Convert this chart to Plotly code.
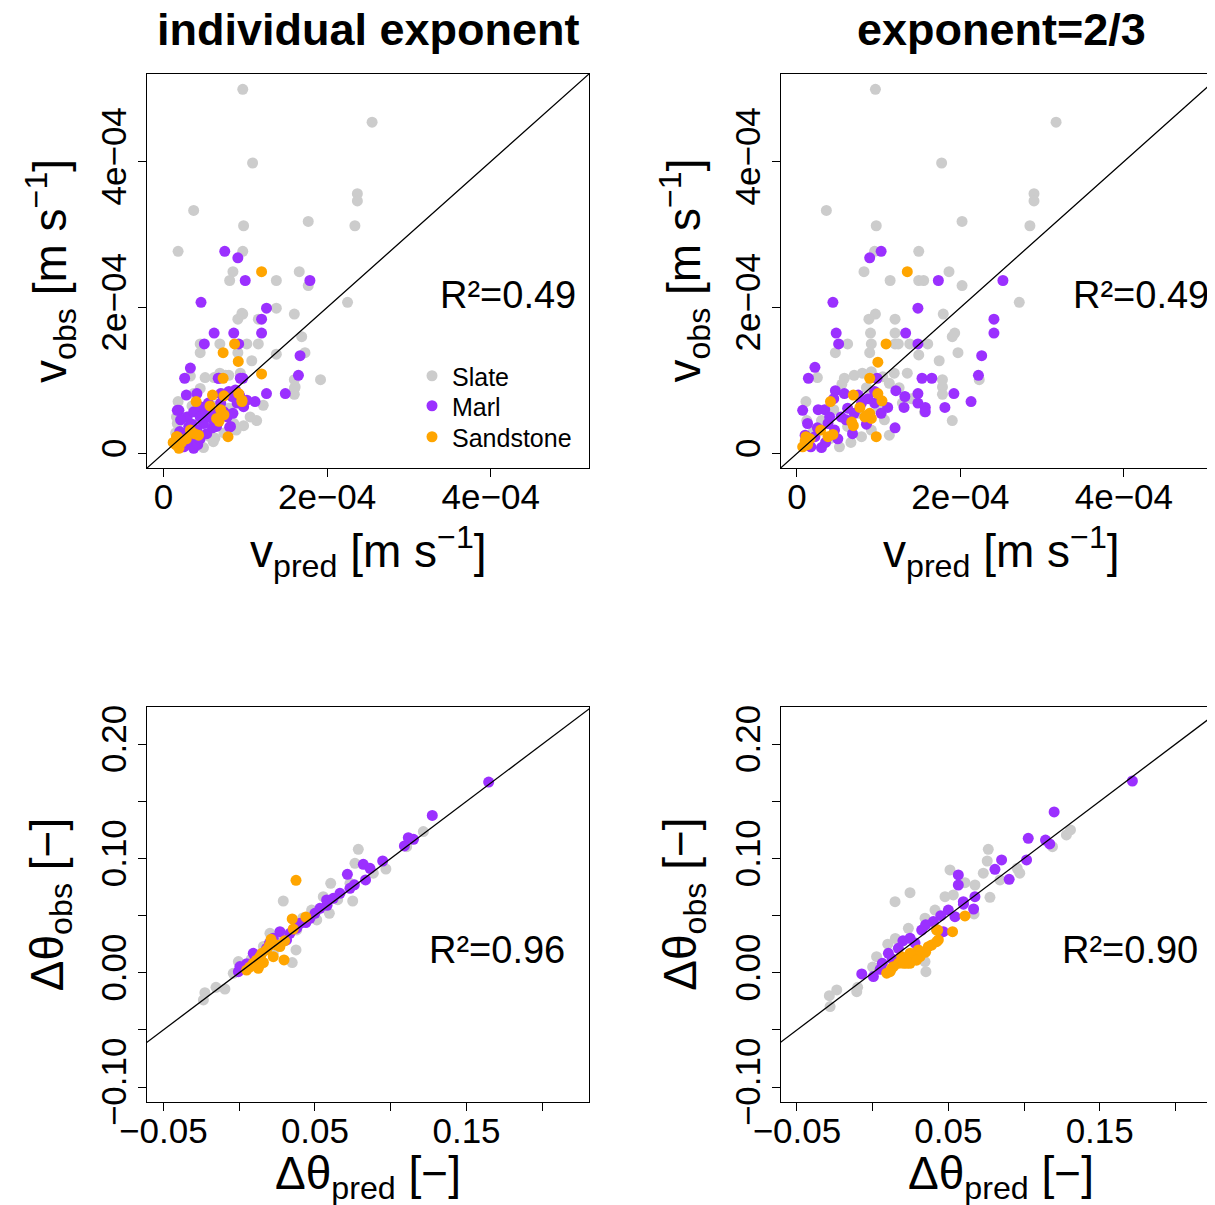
import plotly.graph_objects as go

# ---------------- data ----------------
# top panels: velocities in units of 1e-4 m/s
tl_slate_x = [0.97,2.55,1.09,2.37,2.37,0.37,0.98,1.77,2.34,0.18,0.97,0.85,0.81,1.38,1.66,1.77,2.25,1.38,1.60,0.97,0.91,1.16,1.69,0.45,0.69,1.02,1.16,0.45,0.91,1.38,1.73,1.08,0.33,0.51,0.62,0.69,0.76,0.94,1.92,1.60,1.60,1.60,1.22,1.14,0.98,0.18,0.16,0.49,0.63,0.89,0.43,1.06,0.61,0.17,0.15,0.19,0.45,0.80,0.29,0.53,0.25,0.57,0.74,0.86,0.72,0.37,0.55,0.65,0.40,0.30,0.22,0.96,1.61,0.80,0.35]
tl_slate_y = [4.99,4.54,3.98,3.56,3.46,3.33,3.12,3.18,3.12,2.77,2.77,2.49,2.37,2.37,2.49,2.30,2.07,1.99,1.91,1.91,1.84,1.84,1.60,1.50,1.50,1.50,1.50,1.38,1.38,1.36,1.38,1.27,1.06,1.04,1.04,1.10,1.07,1.10,1.01,1.01,0.89,0.81,0.66,0.45,0.38,0.71,0.50,0.08,0.21,0.32,0.41,0.50,0.16,0.41,0.28,0.55,0.89,1.07,0.50,0.46,0.21,0.23,0.28,0.41,0.82,0.82,0.60,0.65,0.30,0.12,0.18,1.92,0.91,0.62,0.65]
tl_marl_x = [0.75,0.91,1.00,1.79,0.46,1.26,1.20,0.62,0.86,1.20,0.50,0.92,1.67,0.33,0.26,0.68,0.94,0.97,1.65,1.26,1.49,1.12,0.28,0.41,0.19,0.81,0.37,0.67,0.17,0.70,0.80,0.88,0.84,0.29,0.37,0.45,0.55,0.61,0.49,0.41,0.33,0.25,0.37,0.53,0.65,0.78,0.82,0.70,0.57,0.45,0.21,0.31,0.74,0.90,1.02,0.98,0.28,0.45,0.60,0.42,0.20,0.52,0.62,0.35,0.27,0.85,0.93]
tl_marl_y = [2.77,2.68,2.37,2.37,2.07,1.99,1.84,1.65,1.65,1.65,1.50,1.50,1.34,1.17,1.03,1.03,1.03,1.03,1.07,0.82,0.82,0.71,0.80,0.82,0.59,0.36,0.08,1.03,0.59,0.82,0.85,0.87,0.78,0.50,0.57,0.64,0.69,0.55,0.41,0.32,0.21,0.09,0.07,0.27,0.37,0.50,0.37,0.69,0.50,0.50,0.46,0.37,0.57,0.69,0.73,0.64,0.15,0.20,0.35,0.12,0.30,0.58,0.44,0.40,0.27,0.55,0.80]
tl_sand_x = [1.20,0.87,0.73,0.915,1.20,0.73,0.60,0.92,0.40,0.96,0.79,0.16,0.74,0.96,0.57,0.74,0.68,0.38,0.33,0.43,0.17,0.15,0.19,0.22,0.70,0.65,0.28,0.12]
tl_sand_y = [2.49,1.50,1.38,1.26,1.09,1.03,0.80,0.82,0.71,0.71,0.23,0.23,0.79,0.73,0.65,0.53,0.44,0.27,0.32,0.25,0.23,0.12,0.07,0.15,0.60,0.48,0.20,0.15]

tr_slate_x = [0.96,3.17,1.77,2.90,2.90,0.36,0.97,2.02,2.85,0.95,1.49,0.82,1.86,1.14,1.49,1.55,2.02,2.72,0.96,0.88,1.20,1.79,0.90,1.20,1.93,1.90,0.62,0.91,1.20,1.24,1.38,1.60,0.47,0.89,1.49,1.97,1.74,0.25,0.58,0.70,0.91,1.19,1.35,1.13,1.78,1.78,1.78,2.23,1.90,1.13,0.11,0.52,0.79,1.07,1.29,1.56,0.62,0.91,0.30,0.45,0.75,1.00,0.20,0.40,0.85,0.55,1.25,1.40,0.12,0.66,1.05,0.80]
tr_slate_y = [4.99,4.54,3.98,3.56,3.46,3.33,3.12,3.18,3.12,2.77,2.77,2.49,2.49,2.37,2.37,2.37,2.30,2.07,1.91,1.84,1.84,1.91,1.65,1.65,1.65,1.60,1.50,1.50,1.50,1.50,1.50,1.50,1.38,1.38,1.35,1.38,1.27,1.04,1.03,1.07,1.12,1.10,1.10,0.96,1.01,0.91,0.81,1.01,0.45,0.25,0.71,0.09,0.23,0.46,0.69,0.57,0.37,0.32,0.45,0.60,0.55,0.62,0.30,0.20,0.90,0.95,0.90,0.75,0.45,0.15,1.05,1.10]
tr_marl_x = [1.03,0.89,1.73,2.52,0.44,1.48,2.41,2.41,0.48,1.33,0.51,1.48,2.26,0.22,0.14,2.22,1.53,1.65,0.98,1.21,1.32,1.48,1.92,2.13,1.48,1.57,1.57,1.81,1.31,1.11,1.20,0.47,0.58,0.07,0.26,0.68,0.30,0.22,0.38,0.54,0.79,0.87,0.95,1.03,0.70,0.13,0.17,0.46,0.60,0.34,0.45,0.62,0.25,0.50,0.85,0.10,0.35,0.75,0.95,0.40]
tr_marl_y = [2.77,2.68,2.37,2.37,2.07,1.99,1.84,1.65,1.65,1.65,1.50,1.50,1.34,1.18,1.03,1.07,1.03,1.03,1.03,0.86,0.78,0.82,0.82,0.71,0.69,0.63,0.57,0.63,0.63,0.63,0.35,0.86,0.82,0.59,0.60,0.27,0.08,0.23,0.41,0.50,0.69,0.75,0.69,0.55,0.55,0.41,0.09,0.32,0.46,0.60,0.75,0.62,0.35,0.20,0.40,0.25,0.15,0.80,0.85,0.50]
tr_sand_x = [1.35,1.09,0.99,0.89,0.69,0.99,1.04,0.41,0.77,0.83,0.89,0.91,0.67,0.97,0.29,0.38,0.44,0.11,0.13,0.07,0.85,0.10,0.16,0.69]
tr_sand_y = [2.49,1.50,1.25,1.03,0.80,0.82,0.72,0.71,0.63,0.50,0.55,0.48,0.43,0.23,0.32,0.23,0.26,0.23,0.12,0.09,0.52,0.17,0.20,0.38]

# bottom panels: water content change [-]
bl_slate_x = [0.0786,0.0764,0.0968,0.1215,0.1105,0.0604,0.0731,0.0749,0.0595,0.0291,0.0478,0.0375,0.0350,0.0203,-0.0005,-0.0226,-0.0236,-0.0153,-0.0094,0.0380,0.0512,0.0137,0.0225,-0.0039,0.0049,0.0885,0.0555,0.0650,0.0420,0.0160,0.0280,0.0080]
bl_slate_y = [0.1080,0.0958,0.0908,0.1235,0.1103,0.0783,0.0783,0.0628,0.0520,0.0628,0.0549,0.0200,0.0089,0.0345,0.0098,-0.0174,-0.0238,-0.0127,-0.0142,0.0375,0.0462,0.0068,0.0170,-0.0005,0.0039,0.0871,0.0666,0.0640,0.0480,0.0230,0.0300,0.0120]
bl_marl_x = [0.1646,0.1274,0.1116,0.1150,0.1090,0.0947,0.0819,0.0863,0.0714,0.0834,0.0731,0.0665,0.0577,0.0533,0.0467,0.0401,0.0335,0.0269,0.0225,0.0181,0.0093,-0.0005,0.0005,0.0137,0.0313,0.0621,0.0760,0.0500,0.0440,0.0200,0.0100,0.0050,0.0380,0.0580]
bl_marl_y = [0.1669,0.1377,0.1182,0.1168,0.1110,0.0978,0.0949,0.0914,0.0861,0.0812,0.0739,0.0695,0.0637,0.0564,0.0477,0.0433,0.0345,0.0360,0.0302,0.0214,0.0170,0.0010,0.0054,0.0141,0.0287,0.0651,0.0770,0.0520,0.0440,0.0260,0.0100,0.0080,0.0390,0.0590]
bl_sand_x = [0.0375,0.0350,0.0440,0.0357,0.0296,0.0210,0.0247,0.0181,0.0137,0.0115,0.0126,0.0049,0.0093,0.0269,0.0225,0.0160,0.0070,0.0200,0.0300,0.0150]
bl_sand_y = [0.0809,0.0471,0.0488,0.0383,0.0112,0.0293,0.0243,0.0200,0.0141,0.0110,0.0039,0.0024,0.0083,0.0229,0.0141,0.0090,0.0050,0.0240,0.0280,0.0170]

br_slate_x = [0.0764,0.0757,0.0731,0.0511,0.0610,0.0676,0.0533,0.0775,0.0955,0.0972,0.0841,0.1188,0.1280,0.1307,0.0247,0.0148,0.0412,0.0346,0.0236,0.0352,0.0346,0.0026,-0.0105,-0.0099,-0.0237,-0.0286,-0.0281,0.0670,0.0478,0.0150,0.0100,0.0300,0.0000,0.0200,0.0420]
br_slate_y = [0.1080,0.0978,0.0871,0.0900,0.0788,0.0768,0.0681,0.0660,0.0914,0.0871,0.0812,0.1103,0.1206,0.1250,0.0701,0.0622,0.0549,0.0477,0.0389,0.0010,0.0098,0.0141,-0.0165,-0.0127,-0.0150,-0.0200,-0.0296,0.0515,0.0666,0.0300,0.0250,0.0200,0.0050,0.0130,0.0380]
br_marl_x = [0.1716,0.1199,0.1028,0.1142,0.1170,0.1017,0.0852,0.0808,0.0902,0.0566,0.0566,0.0676,0.0599,0.0667,0.0500,0.0544,0.0401,0.0324,0.0247,0.0170,0.0104,0.0064,0.0005,-0.0072,0.0467,0.0450,0.0350,0.0200,0.0130,0.0600,0.0280,0.0050]
br_marl_y = [0.1678,0.1407,0.1176,0.1161,0.1127,0.0987,0.0987,0.0905,0.0818,0.0856,0.0768,0.0666,0.0622,0.0558,0.0549,0.0491,0.0448,0.0374,0.0302,0.0214,0.0170,0.0083,-0.0033,-0.0010,0.0360,0.0500,0.0420,0.0280,0.0120,0.0600,0.0260,0.0030]
br_sand_x = [0.0610,0.0528,0.0430,0.0434,0.0390,0.0302,0.0258,0.0225,0.0170,0.0126,0.0093,0.0192,0.0280,0.0423,0.0423,0.0368,0.0313,0.0247,0.0203,0.0137,0.0115,0.0247,0.0350,0.0290]
br_sand_y = [0.0497,0.0360,0.0374,0.0287,0.0243,0.0200,0.0141,0.0083,0.0083,0.0039,-0.0004,0.0141,0.0170,0.0374,0.0272,0.0228,0.0141,0.0171,0.0083,0.0053,0.0010,0.0083,0.0180,0.0110]

groups = ["Slate", "Marl", "Sandstone"]
colors = {"Slate": "#CCCCCC", "Marl": "#9B30FF", "Sandstone": "#FFA500"}
titles = ["individual exponent", "exponent=2/3"]
r2_labels = ["R²=0.49", "R²=0.49", "R²=0.96", "R²=0.90"]

v_ticks = [0, 2e-4, 4e-4]
v_ticktext = ["0", "2e\u221204", "4e\u221204"]
th_xticks = [-0.05, 0, 0.05, 0.10, 0.15, 0.20]
th_xtext = ["\u22120.05", "", "0.05", "", "0.15", ""]
th_yticks = [-0.10, -0.05, 0, 0.05, 0.10, 0.15, 0.20]
th_ytext = ["\u22120.10", "", "0.00", "", "0.10", "", "0.20"]

v_lim = (0, 5e-4)
th_xlim = (-0.05, 0.22)
th_ylim = (-0.10, 0.22)

# ---------------- layout geometry ----------------
W, H = 1215, 1205
OFF = 8  # page body margin: figure drawn 8 px right/down of the window corner
FONT = "Liberation Sans, Arial, Helvetica, sans-serif"
# plot boxes in window pixels
COL_X = [(147, 589), (780.6, 1222)]
ROW_Y = [(74, 468), (706.7, 1101.7)]


def fx(p):
    return (p - OFF) / W


def fy(p):
    return 1 - (p - OFF) / H


def ext(lim):
    d = lim[1] - lim[0]
    return [lim[0] - 0.04 * d, lim[1] + 0.04 * d]


def xdomain_range(col, lim):
    x0, x1 = COL_X[col]
    lo, hi = ext(lim)
    x1c = min(x1, W - 1 + OFF)
    hi_c = lo + (x1c - x0) / (x1 - x0) * (hi - lo)
    return [fx(x0), fx(x1c)], [lo, hi_c]


def ydomain(row):
    y0, y1 = ROW_Y[row]
    return [fy(y1), fy(y0)]


fig = go.Figure()

panels = [
    (0, 0, tl_slate_x, tl_slate_y, tl_marl_x, tl_marl_y, tl_sand_x, tl_sand_y, 1e-4),
    (0, 1, tr_slate_x, tr_slate_y, tr_marl_x, tr_marl_y, tr_sand_x, tr_sand_y, 1e-4),
    (1, 0, bl_slate_x, bl_slate_y, bl_marl_x, bl_marl_y, bl_sand_x, bl_sand_y, 1.0),
    (1, 1, br_slate_x, br_slate_y, br_marl_x, br_marl_y, br_sand_x, br_sand_y, 1.0),
]

axis_common = dict(showgrid=False, zeroline=False, showline=True, linecolor="black",
                   linewidth=1, ticks="outside", ticklen=8, tickcolor="black", tickwidth=1,
                   automargin=False,
                   tickfont=dict(family=FONT, size=35, color="black"))

legend_keys = {"Slate": "legend", "Marl": "legend2", "Sandstone": "legend3"}

for i, (row, col, sx, sy, mx, my, ax_, ay_, scale) in enumerate(panels):
    n = i + 1
    xa = "x" if n == 1 else f"x{n}"
    ya = "y" if n == 1 else f"y{n}"
    data = [("Slate", sx, sy), ("Marl", mx, my), ("Sandstone", ax_, ay_)]
    for name, xs, ys in data:
        fig.add_trace(go.Scatter(
            x=[v * scale for v in xs], y=[v * scale for v in ys], mode="markers",
            marker=dict(color=colors[name], size=11, line=dict(width=0)),
            name=name, showlegend=(n == 1), legend=legend_keys[name],
            xaxis=xa, yaxis=ya, hoverinfo="skip"))
    fig.add_trace(go.Scatter(x=[-1, 1], y=[-1, 1], mode="lines",
                             line=dict(color="black", width=1.3), showlegend=False,
                             xaxis=xa, yaxis=ya, hoverinfo="skip"))

    if row == 0:
        xlim, ylim = v_lim, v_lim
        xt, xtt, yt, ytt = v_ticks, v_ticktext, v_ticks, v_ticktext
    else:
        xlim, ylim = th_xlim, th_ylim
        xt, xtt, yt, ytt = th_xticks, th_xtext, th_yticks, th_ytext
    xdom, xrng = xdomain_range(col, xlim)
    key_x = "xaxis" if n == 1 else f"xaxis{n}"
    key_y = "yaxis" if n == 1 else f"yaxis{n}"
    fig.layout[key_x] = dict(domain=xdom, range=xrng, anchor=ya, tickvals=xt, ticktext=xtt,
                             mirror=True, ticklabelstandoff=-10, **axis_common)
    fig.layout[key_y] = dict(domain=ydomain(row), range=ext(ylim), anchor=xa, tickvals=yt,
                             ticktext=ytt, mirror=(col == 0), tickangle=-90,
                             ticklabelstandoff=-2, **axis_common)

annotations = []
# titles
for col, t in enumerate(titles):
    cx = (COL_X[col][0] + COL_X[col][1]) / 2
    annotations.append(dict(text=f"<b>{t}</b>", x=fx(cx), y=fy(29), xref="paper", yref="paper",
                            xanchor="center", yanchor="middle", showarrow=False,
                            font=dict(family=FONT, size=45, color="black")))
# axis labels
xlabels = ["v<sub>pred</sub> [m s<sup>\u22121</sup>]", "\u0394\u03b8<sub>pred</sub> [\u2212]"]
ylabels = ["v<sub>obs</sub> [m s<sup>\u22121</sup>]", "\u0394\u03b8<sub>obs</sub> [\u2212]"]
xlab_y = [552, 1176]
for row in range(2):
    for col in range(2):
        cx = (COL_X[col][0] + COL_X[col][1]) / 2
        annotations.append(dict(text=xlabels[row], x=fx(cx), y=fy(xlab_y[row]),
                                xref="paper", yref="paper", xanchor="center", yanchor="middle",
                                showarrow=False, font=dict(family=FONT, size=46, color="black")))
        cy = (ROW_Y[row][0] + ROW_Y[row][1]) / 2
        lx = COL_X[col][0] - 97
        annotations.append(dict(text=ylabels[row], x=fx(lx), y=fy(cy), textangle=-90,
                                xref="paper", yref="paper", xanchor="center", yanchor="middle",
                                showarrow=False, font=dict(family=FONT, size=46, color="black")))
# R² labels
r2_pos = [(578, 295), (1211, 295), (567, 950), (1200, 950)]
for (px, py), lab in zip(r2_pos, r2_labels):
    annotations.append(dict(text=lab, x=fx(px), y=fy(py), xref="paper", yref="paper",
                            xanchor="right", yanchor="middle", showarrow=False,
                            font=dict(family=FONT, size=38, color="black")))

legend_rows = [376, 406, 437]
legend_common = dict(xanchor="left", yanchor="middle", bgcolor="rgba(0,0,0,0)",
                     font=dict(family=FONT, size=25, color="black"), itemwidth=30)

fig.update_layout(
    width=W, height=H, margin=dict(l=0, r=0, t=0, b=0, pad=0, autoexpand=False),
    paper_bgcolor="white", plot_bgcolor="white",
    annotations=annotations,
    legend=dict(x=fx(412), y=fy(legend_rows[0]), **legend_common),
    legend2=dict(x=fx(412), y=fy(legend_rows[1]), **legend_common),
    legend3=dict(x=fx(412), y=fy(legend_rows[2]), **legend_common),
)

fig.write_html("out.html")
